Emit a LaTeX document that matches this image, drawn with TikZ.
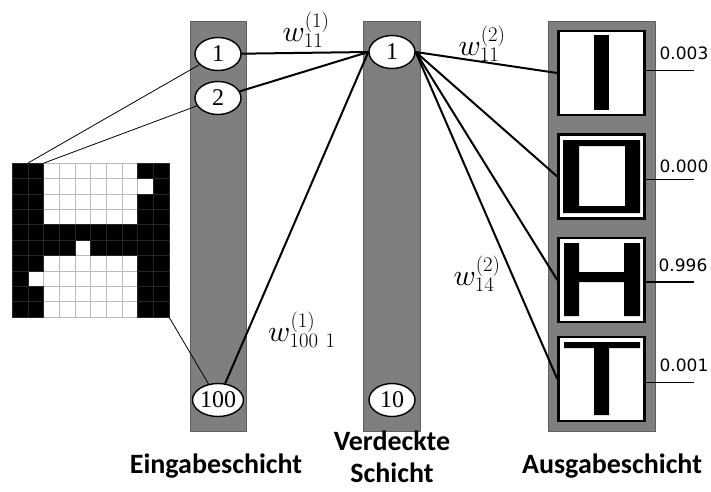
\documentclass[tikz,border=0pt]{standalone}
\usepackage{fontspec}
\setmainfont{Liberation Serif}
\newfontfamily\capfont{Carlito}
\newfontfamily\valfont{DejaVu Sans}
\DeclareFontShape{OML}{cmm}{m}{it}{<->cmmi10}{}
\usetikzlibrary{shapes.geometric}
\definecolor{layergray}{RGB}{127,127,127}
\definecolor{layerline}{RGB}{95,95,95}
\tikzset{
  layer/.style={fill=layergray, draw=layerline, line width=1pt},
  unit/.style={ellipse, draw, fill=white, line width=1.4pt, minimum width=46pt,
    minimum height=33pt, inner sep=0pt, font=\fontsize{24}{24}\selectfont},
  weight/.style={line width=2pt},
  feed/.style={line width=0.8pt},
  outbox/.style={draw, fill=white, line width=2.5pt, minimum width=86pt, minimum height=84pt},
  wlabel/.style={font=\fontsize{30}{30}\selectfont},
  value/.style={font=\valfont\fontsize{17}{17}\selectfont},
  caption/.style={font=\capfont\bfseries\fontsize{28}{32}\selectfont, align=center}
}
\begin{document}
\begin{tikzpicture}[x=1pt,y=-1pt]
\useasboundingbox (0,0) rectangle (711,491);

% layers
\draw[layer] (190,21) rectangle (246,431);
\draw[layer] (363,21) rectangle (420,431);
\draw[layer] (548,21) rectangle (655,431);

% pixel image
\fill[white] (12,163) rectangle (169,317);
\foreach \i in {0,...,10} {
  \draw[gray!55, line width=0.6pt] (12+15.7*\i,163) -- (12+15.7*\i,317);
  \draw[gray!55, line width=0.6pt] (12,163+15.4*\i) -- (169,163+15.4*\i);
}
\foreach \r/\cols in {0/{0,1,8,9},1/{0,1,9},2/{0,1,8,9},3/{0,1,8,9},4/{0,...,9},
                      5/{0,1,2,3,5,6,7,8,9},6/{0,1,8,9},7/{0,8,9},8/{0,1,8,9},9/{0,1,8,9}}
  \foreach \c in \cols
    \filldraw[fill=black, draw=black!85, line width=0.4pt] (12+15.7*\c,163+15.4*\r) rectangle ++(15.7,15.4);
\coordinate (g1) at (28,163);
\coordinate (g2) at (44,163);
\coordinate (g3) at (169,317);

% units
\node[unit] (in1) at (218,54) {1};
\node[unit] (in2) at (218,98) {2};
\node[unit] (in100) at (218,400) {100};
\node[unit] (hid1) at (392,52) {1};
\node[unit] (hid10) at (392,400) {10};

% output boxes
\node[outbox] (o1) at (601.5,73) {};
\node[outbox] (o2) at (601.5,176.5) {};
\node[outbox] (o3) at (601.5,280) {};
\node[outbox] (o4) at (601.5,379) {};
\fill (594,35) rectangle (609,110);
\fill[even odd rule] (563,140) rectangle (640,213) (579,146) rectangle (625,206);
\fill (564,243) rectangle (579,316) (624,243) rectangle (640,316) (579,272) rectangle (624,282);
\fill (564,342) rectangle (640,348) (594,348) rectangle (609,415);

% connections
\draw[feed] (g1) -- (in1);
\draw[feed] (g2) -- (in2);
\draw[feed] (g3) -- (in100);
\draw[weight] (in1) -- (hid1.west);
\draw[weight] (in2) -- (hid1.west);
\draw[weight] (in100) -- (hid1.west);
\foreach \o in {o1,o2,o3,o4}
  \draw[weight] (hid1.east) -- (\o.west);

% output values
\coordinate (v1) at (694,70);
\coordinate (v2) at (694,179);
\coordinate (v3) at (694,282);
\coordinate (v4) at (694,382);
\draw[line width=1pt] (o1.east |- v1) -- (v1);
\draw[line width=1pt] (o2.east |- v2) -- (v2);
\draw[line width=2pt] (o3.east |- v3) -- (v3);
\draw[line width=1pt] (o4.east |- v4) -- (v4);
\node[value] (p1) at (684,53) {0.003};
\node[value] (p2) at (684,166) {0.000};
\node[value] (p3) at (683,265) {0.996};
\node[value] (p4) at (684,365) {0.001};

% weights
\node[wlabel] (w1) at (306,30) {$w^{(1)}_{11}$};
\node[wlabel] (w2) at (482,44) {$w^{(2)}_{11}$};
\node[wlabel] (w3) at (477,274) {$w^{(2)}_{14}$};
\node[wlabel] (w4) at (302,330) {$w^{(1)}_{100\ 1}$};

% captions
\node[caption] (c1) at (216,466) {Eingabeschicht};
\node[caption] (c2) at (392,457) {Verdeckte\\Schicht};
\node[caption] (c3) at (612,466) {Ausgabeschicht};
\end{tikzpicture}
\end{document}
